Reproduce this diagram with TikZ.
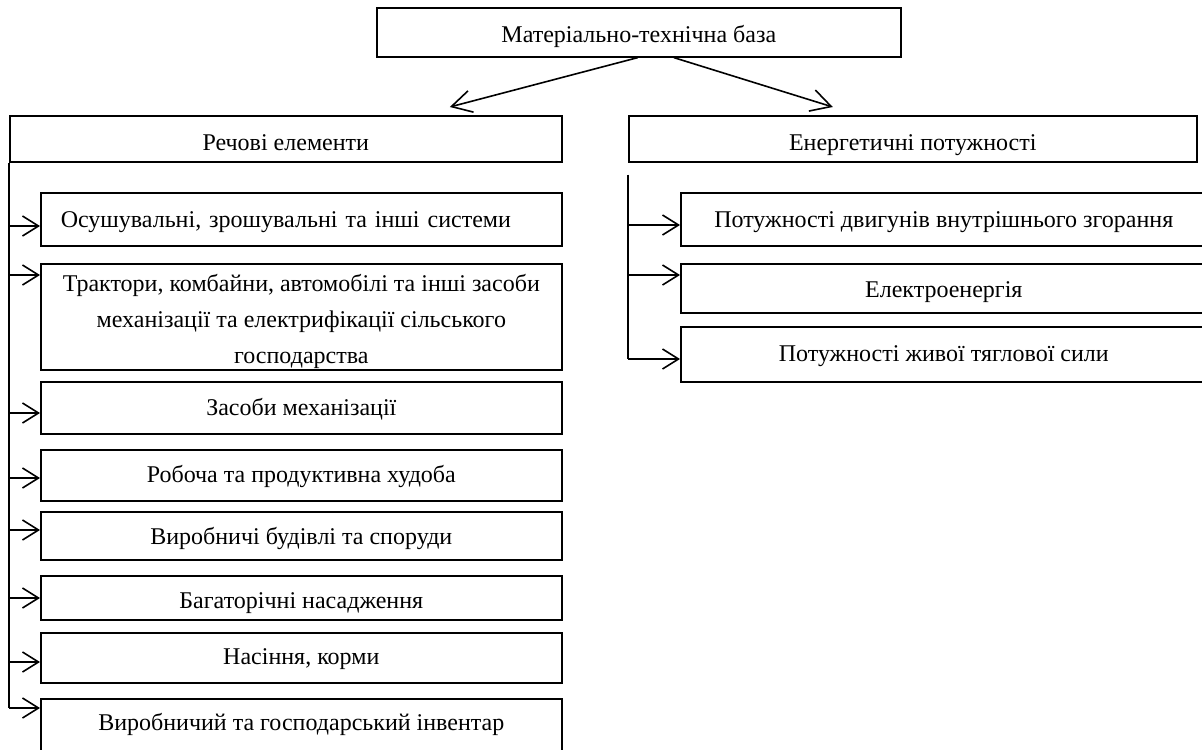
\documentclass[tikz,border=0pt]{standalone}
\usepackage{fontspec}
\setmainfont{Liberation Serif}
\usetikzlibrary{arrows.meta}

\begin{document}
\begin{tikzpicture}[
  x=0.5pt, y=-0.5pt,
  box/.style={rectangle, draw, line width=0.8pt, inner sep=0pt, align=center,
              font=\fontsize{12}{18}\selectfont, anchor=north west},
  head/.style={box, minimum height=23pt},
  leaf/.style={box, minimum width=260.5pt},
  rleaf/.style={box, minimum width=263pt},
  bl/.style={text height=#1, text depth=0pt},
  arr/.style={-{Straight Barb[length=8pt,width=10pt]}, line width=0.8pt},
  bigarr/.style={-{Straight Barb[length=10pt,width=11pt]}, line width=0.8pt},
]
  \useasboundingbox (0,0) rectangle (1202,749);
  \clip (0,0) rectangle (1202,749);

  % Top level
  \node[box, minimum width=262pt, minimum height=24.5pt, bl=10pt] (mtb) at (376,7) {Матеріально-технічна база};
  \node[head, minimum width=276pt, bl=11.5pt] (rech) at (9,115) {Речові елементи};
  \node[head, minimum width=284pt, bl=11.5pt] (energ) at (628,115) {Енергетичні потужності};

  % Left column
  \node[leaf, minimum height=26.5pt, bl=8.5pt, text width=240.5pt, inner xsep=10pt, align=left] (osush) at (40,192) {Осушувальні, зрошувальні та інші системи};
  \node[leaf, minimum height=53pt] (trakt) at (40,263) {\rule{0pt}{13.5pt}Трактори, комбайни, автомобілі та інші засоби\\механізації та електрифікації сільського\\господарства};
  \node[leaf, minimum height=26pt, bl=8pt] (zasoby) at (40,381) {Засоби механізації};
  \node[leaf, minimum height=25.5pt, bl=7.5pt] (khudoba) at (40,449) {Робоча та продуктивна худоба};
  \node[leaf, minimum height=24pt, bl=9pt] (budivli) at (40,511) {Виробничі будівлі та споруди};
  \node[leaf, minimum height=22pt, bl=11pt] (nasadzh) at (40,575) {Багаторічні насадження};
  \node[leaf, minimum height=25pt, bl=7pt] (korm) at (40,632) {Насіння, корми};
  \node[leaf, minimum height=31pt, bl=1pt] (inventar) at (40,698) {Виробничий та господарський інвентар};

  % Right column
  \node[rleaf, minimum height=26.5pt, bl=8.5pt] (dvyg) at (680,192) {Потужності двигунів внутрішнього згорання};
  \node[rleaf, minimum height=24.5pt, bl=9.5pt] (elektro) at (680,263) {Електроенергія};
  \node[rleaf, minimum height=27.5pt, bl=7pt] (zhyva) at (680,326) {Потужності живої тяглової сили};

  % Arrows
  \draw[bigarr] ([xshift=-0.5pt]mtb.south) -- ([xshift=82pt, yshift=4pt]rech.north);
  \draw[bigarr] ([xshift=17.5pt]mtb.south) -- ([xshift=-40pt, yshift=4pt]energ.north);

  \draw[line width=0.8pt] (rech.south west) -- (rech.west |- 0,708);
  \foreach \n/\y in {osush/226, trakt/275, zasoby/413, khudoba/478, budivli/530, nasadzh/598, korm/662, inventar/708}
    \draw[arr] (rech.west |- 0,\y) -- (\n.west |- 0,\y);

  \draw[line width=0.8pt] ([yshift=-6pt]energ.south west) -- (energ.west |- 0,359);
  \foreach \n/\y in {dvyg/225, elektro/275, zhyva/359}
    \draw[arr] (energ.west |- 0,\y) -- (\n.west |- 0,\y);
\end{tikzpicture}
\end{document}
